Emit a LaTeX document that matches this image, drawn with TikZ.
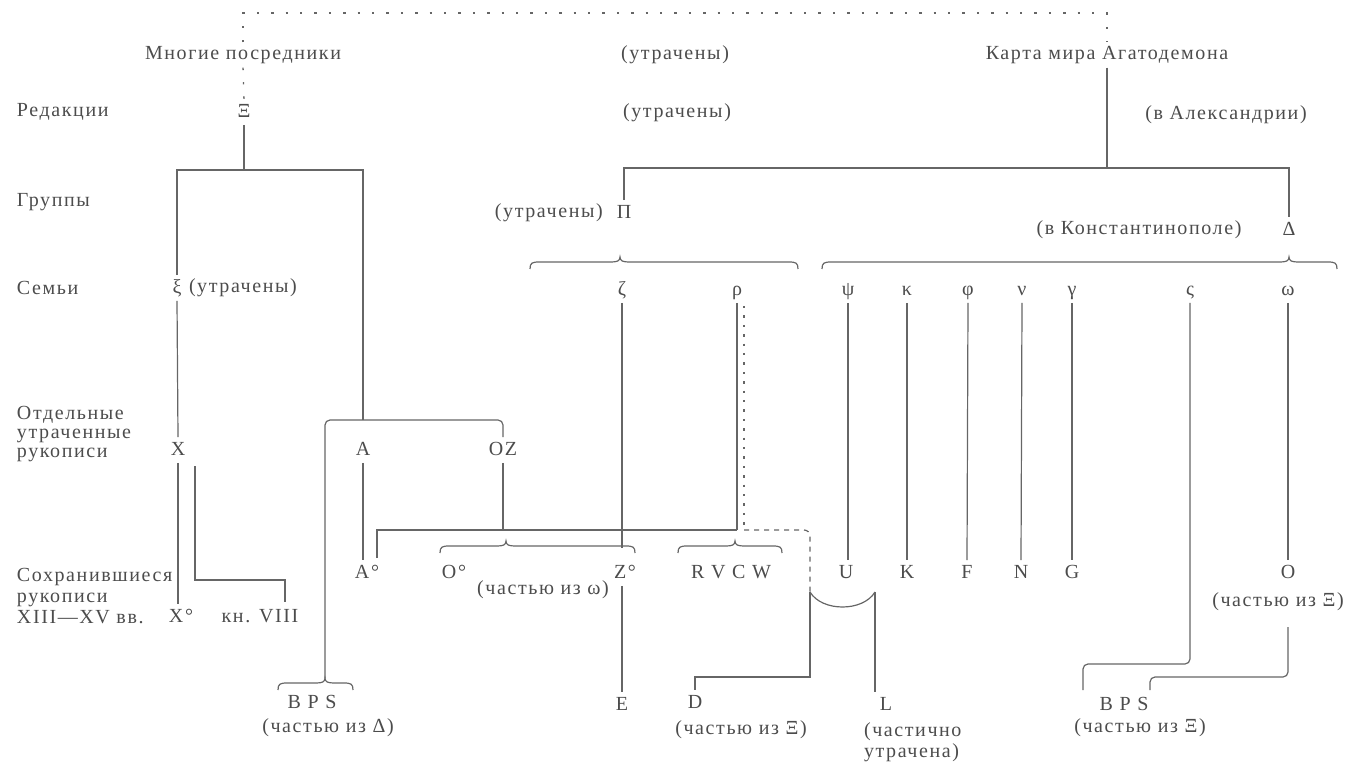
\documentclass[tikz,border=0pt]{standalone}
\usepackage{fontspec}
\setmainfont{Liberation Serif}[LetterSpace=8]
\definecolor{txt}{gray}{0.3}
\definecolor{lnc}{gray}{0.4}
\tikzset{
  lbl/.style={inner sep=1.8pt, text=txt, font=\fontsize{10}{10}\selectfont},
  sym/.style={lbl, text height=7pt, text depth=1.8pt},
  ln/.style={draw=lnc, line width=0.6pt},
  rc/.style={ln, rounded corners=2.5pt},
  dotln/.style={draw=lnc, line width=0.7pt, dash pattern=on 1.2pt off 6pt},
  dotv/.style={draw=lnc, line width=0.7pt, dash pattern=on 1.2pt off 3.5pt},
  dashln/.style={draw=lnc, line width=0.6pt, dash pattern=on 2.5pt off 2.5pt},
}
\newcommand{\hbr}[4]{%
  \draw[ln] (#1,#4+12) .. controls (#1,#4+6) and (#1+2,#4+5) .. (#1+9,#4+5)
    -- (#2-9,#4+5) .. controls (#2-3,#4+5) and (#2,#4+4) .. (#2,#4)
    .. controls (#2,#4+4) and (#2+3,#4+5) .. (#2+9,#4+5)
    -- (#3-9,#4+5) .. controls (#3-2,#4+5) and (#3,#4+6) .. (#3,#4+12);}
\begin{document}
\begin{tikzpicture}[x=0.5pt,y=-0.5pt]
\useasboundingbox (0,0) rectangle (1349,764);
% left column
\node[lbl,anchor=west] (red) at (13,112) {Редакции};
\node[lbl,anchor=west] (grp) at (13,202) {Группы};
\node[lbl,anchor=west] (sem) at (13,288) {Семьи};
\node[lbl,anchor=west,align=left,font=\fontsize{10}{9.5}\selectfont] (otd) at (13,434) {Отдельные\\утраченные\\рукописи};
\node[lbl,anchor=west,align=left,font=\fontsize{10}{10.5}\selectfont] (soh) at (13,596) {Сохранившиеся\\рукописи\\XIII—XV вв.};
% top
\node[lbl] (mnog) at (243,55) {Многие посредники};
\node[lbl] (utrA) at (675,55) {(утрачены)};
\node[lbl] (karta) at (1107,55) {Карта мира Агатодемона};
\node[sym] (Xi) at (244,112) {Ξ};
\node[lbl] (utrB) at (677,113) {(утрачены)};
\node[lbl] (alex) at (1226,115) {(в Александрии)};
\node[sym] (Pi) at (624,213) {Π};
\node[lbl,anchor=east] (utrC) at ([xshift=-3pt]Pi.west) {(утрачены)};
\node[lbl] (konst) at (1139,230) {(в Константинополе)};
\node[sym] (Delta) at (1289,230) {Δ};
% families
\node[sym] (xi) at (177,288) {ξ};
\node[lbl,anchor=west] (utrD) at (185,288) {(утрачены)};
\node[sym] (zeta) at (622,290) {ζ};
\node[sym] (rho) at (737,290) {ρ};
\node[sym] (psi) at (848,290) {ψ};
\node[sym] (kappa) at (907,290) {κ};
\node[sym] (phi) at (968,290) {φ};
\node[sym] (nu) at (1022,290) {ν};
\node[sym] (gamma) at (1072,290) {γ};
\node[sym] (sigf) at (1190,290) {ς};
\node[sym] (omega) at (1288,290) {ω};
% lost manuscripts
\node[sym] (X) at (178,450) {X};
\node[sym] (A) at (363,450) {A};
\node[sym] (OZ) at (503,450) {OZ};
% surviving
\node[sym] (Ao) at (367,573) {A°};
\node[sym] (Oo) at (454,573) {O°};
\node[sym] (Zo) at (625,573) {Z°};
\node[sym] (rvcw) at (731,573) {R V C W};
\node[sym] (U) at (846,573) {U};
\node[sym] (K) at (907,573) {K};
\node[sym] (F) at (967,573) {F};
\node[sym] (N) at (1021,573) {N};
\node[sym] (G) at (1072,573) {G};
\node[sym] (O) at (1288,573) {O};
\node[lbl] (chw) at (543,590) {(частью из ω)};
\node[lbl] (chXiO) at (1278,602) {(частью из Ξ)};
\node[sym] (Xo) at (181,617) {X°};
\node[sym] (kn) at (260,617) {кн. VIII};
% bottom
\node[sym] (BPSa) at (312,703) {B P S};
\node[lbl] (chDa) at (328,728) {(частью из Δ)};
\node[sym] (E) at (622,705) {E};
\node[sym] (D) at (695,703) {D};
\node[lbl] (chXiD) at (741,730) {(частью из Ξ)};
\node[sym] (L) at (886,705) {L};
\node[lbl,anchor=west,align=left,font=\fontsize{10}{10.5}\selectfont] (chL) at (860,742) {(частично\\утрачена)};
\node[sym] (BPSb) at (1124,705) {B P S};
\node[lbl] (chXiB) at (1140,728) {(частью из Ξ)};
% coordinates
\coordinate (tl) at (243,13);
\coordinate (tr) at (1107,13);
\coordinate (b1) at (244,170);
\coordinate (j1) at (363,420);
\coordinate (bpsA) at (325,678);
\coordinate (j2) at (503,530);
\coordinate (j3) at (377,558);
\coordinate (j4) at (737,530);
\coordinate (zb) at (622,548);
\coordinate (rd0) at (744,306);
\coordinate (rd1) at (744,530);
\coordinate (ua) at (810,592);
\coordinate (ub) at (875,592);
\coordinate (dc) at (810,677);
\coordinate (kb) at (1107,168);
\coordinate (sg1) at (1190,664);
\coordinate (bB) at (1083,690);
\coordinate (Ob) at (1288,627);
\coordinate (sc) at (1150,677);
\coordinate (sS) at (1150,690);
\coordinate (Xr) at (195,466);
\coordinate (kc) at (285,580);
\coordinate (kt) at (285,602);
% dotted top frame
\draw[dotln] (mnog.north) -- (tl) -- (tr) -- (karta.north);
\draw[dotln] (mnog.south) -- (Xi.north);
% left tree
\draw[ln] (Xi.south) -- (b1);
\draw[ln] (xi.north) |- (b1) -| (j1);
\draw[ln] (xi.south) -- (X.north);
\draw[rc] (bpsA) |- (j1) -| (OZ.north);
\draw[ln] (A.south) -- (A.south |- Ao.north);
\draw[ln] (OZ.south) -- (j2);
\draw[ln] (j3) |- (j4);
\draw[ln] (X.south) -- (X.south |- Xo.north);
\draw[ln] (Xr) |- (kc) -- (kt);
% right tree
\draw[ln] (karta.south) -- (kb);
\draw[ln] (Pi.north) |- (kb) -| (Delta.north);
\draw[ln] (zeta.south) -- (zb);
\draw[ln] (zb |- Zo.south) -- (E.north);
\draw[ln] (rho.south) -- (j4);
\draw[dotv] (rd0) -- (rd1);
\draw[dashln,rounded corners=3pt] (rd1) -| (ua);
\draw[ln] (ua) .. controls (822,612) and (863,612) .. (ub);
\draw[ln] (ua) -- (dc) -| (D.north);
\draw[ln] (ub) -- (ub |- L.north);
\draw[ln] (psi.south) -- (psi.south |- U.north);
\draw[ln] (kappa.south) -- (K.north);
\draw[ln] (phi.south) -- (F.north);
\draw[ln] (nu.south) -- (N.north);
\draw[ln] (gamma.south) -- (G.north);
\draw[rc] (sigf.south) -- (sg1) -| (bB);
\draw[ln] (omega.south) -- (O.north);
\draw[rc] (Ob) |- (sc) -- (sS);
% braces
\hbr{530}{620}{798}{257}
\hbr{822}{1289}{1337}{257}
\hbr{440}{506}{635}{541}
\hbr{678}{735}{782}{541}
\hbr{278}{325}{353}{678}
\end{tikzpicture}
\end{document}
